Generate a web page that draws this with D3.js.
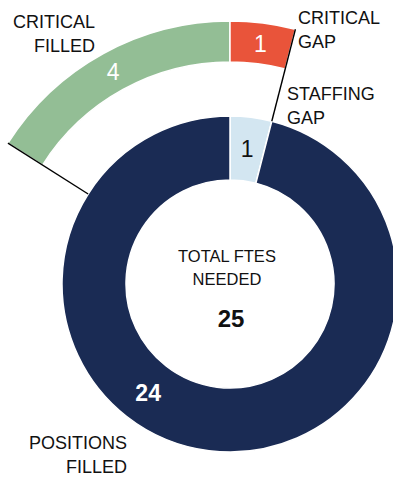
<!DOCTYPE html>
<html>
<head>
<meta charset="utf-8">
<script src="https://cdn.jsdelivr.net/npm/d3@7"></script>
<style>
  html, body { margin: 0; padding: 0; background: #fff; }
  svg { display: block; font-family: "Liberation Sans", Arial, sans-serif; }
</style>
</head>
<body>
<svg id="chart" width="393" height="477"></svg>
<script>
// Main ring: all FTEs needed
const ringCategories = ["STAFFING GAP", "POSITIONS FILLED"];
const ringValues = [1, 24];
const ringColors = ["#d3e6f1", "#1a2b54"];

// Outer breakout arc: critical positions
const criticalCategories = ["CRITICAL FILLED", "CRITICAL GAP"];
const criticalValues = [4, 1];
const criticalColors = ["#93be95", "#e9543a"];

const totalLabel = ["TOTAL FTES", "NEEDED"];

const total = d3.sum(ringValues);
const svg = d3.select("#chart");
const cx = 230, cy = 284;
const R = 168, r = 104;      // main ring radii
const R2 = 263, r2 = 222;    // breakout arc radii

const angle = d3.scaleLinear().domain([0, total]).range([0, 2 * Math.PI]);

const g = svg.append("g").attr("transform", `translate(${cx},${cy})`);

// main ring
const ringPie = d3.pie().sort(null).value(d => d)
  .startAngle(0).endAngle(2 * Math.PI);
const ringArcs = ringPie(ringValues);
const ringArc = d3.arc().innerRadius(r).outerRadius(R);

g.selectAll("path.ring").data(ringArcs).join("path")
  .attr("class", "ring")
  .attr("d", ringArc)
  .attr("fill", (d, i) => ringColors[i])
  .attr("stroke", "#fff").attr("stroke-width", 1.5);

// breakout arc ends where the staffing gap slice ends
const breakEnd = ringArcs[0].endAngle;
const breakStart = breakEnd - angle(d3.sum(criticalValues));
const critPie = d3.pie().sort(null).value(d => d)
  .startAngle(breakStart).endAngle(breakEnd);
const critArcs = critPie(criticalValues);
const critArc = d3.arc().innerRadius(r2).outerRadius(R2);

g.selectAll("path.crit").data(critArcs).join("path")
  .attr("class", "crit")
  .attr("d", critArc)
  .attr("fill", (d, i) => criticalColors[i])
  .attr("stroke", "#fff").attr("stroke-width", 1.5);

// connector lines from ring to breakout arc
[breakStart, breakEnd].forEach(a => {
  const p1 = d3.pointRadial(a, R);
  const p2 = d3.pointRadial(a, R2);
  g.append("line")
    .attr("x1", p1[0]).attr("y1", p1[1])
    .attr("x2", p2[0]).attr("y2", p2[1])
    .attr("stroke", "#000").attr("stroke-width", 1.4);
});

// value labels
const midRing = (r + R) / 2;
// staffing gap value at its centroid
const gapC = ringArc.centroid(ringArcs[0]);
g.append("text").attr("x", gapC[0]).attr("y", gapC[1]).attr("dy", "0.36em")
  .attr("text-anchor", "middle").attr("font-size", 23).attr("fill", "#111")
  .text(ringValues[0]);
// positions filled value sits in the lower-left of the ring
const filledPos = d3.pointRadial(217 * Math.PI / 180, midRing);
g.append("text").attr("x", filledPos[0]).attr("y", filledPos[1]).attr("dy", "0.36em")
  .attr("text-anchor", "middle").attr("font-size", 23).attr("font-weight", "bold")
  .attr("fill", "#fff").text(ringValues[1]);

critArcs.forEach((d, i) => {
  const c = critArc.centroid(d);
  g.append("text").attr("x", c[0]).attr("y", c[1]).attr("dy", "0.36em")
    .attr("text-anchor", "middle").attr("font-size", 23).attr("fill", "#fff")
    .text(criticalValues[i]);
});

// centre label
const centre = svg.append("g").attr("fill", "#111").attr("text-anchor", "middle");
centre.append("text").attr("x", 227).attr("y", 262).attr("font-size", 16.5).text(totalLabel[0]);
centre.append("text").attr("x", 227).attr("y", 285).attr("font-size", 16.5).text(totalLabel[1]);
centre.append("text").attr("x", 231).attr("y", 327).attr("font-size", 24)
  .attr("font-weight", "bold").text(total);

// category labels
function twoLine(words, x, y, anchor) {
  const t = svg.append("g").attr("fill", "#111").attr("font-size", 18)
    .attr("text-anchor", anchor);
  const parts = words.split(" ");
  parts.forEach((w, i) => {
    t.append("text").attr("x", x).attr("y", y + i * 23.5).text(w);
  });
}
twoLine(criticalCategories[0], 95, 28, "end");
twoLine(criticalCategories[1], 298, 24, "start");
twoLine(ringCategories[0], 287, 100, "start");
twoLine(ringCategories[1], 127, 449, "end");
</script>
</body>
</html>
